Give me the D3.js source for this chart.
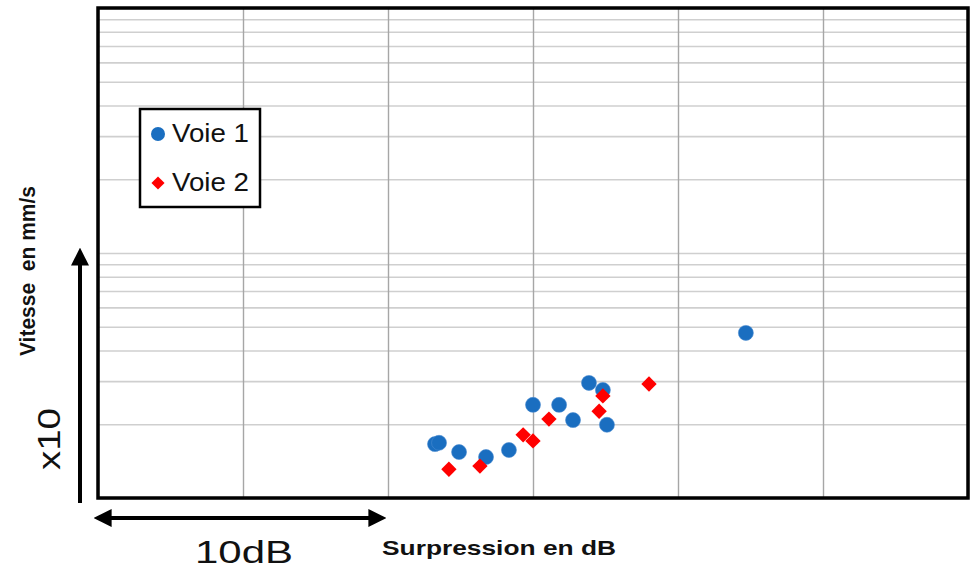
<!DOCTYPE html>
<html><head><meta charset="utf-8">
<script src="https://cdn.jsdelivr.net/npm/d3@7"></script>
<style>body{margin:0;background:#fff}svg{display:block}text{font-family:"Liberation Sans",Arial,sans-serif}</style>
</head><body><svg id="c" width="974" height="569"></svg>
<script>
// Data (x: surpression in dB relative offset, y: vitesse in mm/s x10, log scale)
const voie1X = [11.62, 11.76, 12.45, 13.38, 14.17, 15.00, 15.90, 16.38, 16.93, 17.41, 17.55, 22.34];
const voie1Y = [16.6, 16.8, 15.4, 14.7, 15.7, 24.0, 24.0, 20.8, 29.5, 27.6, 19.9, 47.2];
const voie2X = [12.10, 13.17, 14.66, 15.00, 15.55, 17.28, 17.41, 19.00];
const voie2Y = [13.1, 13.5, 18.1, 17.1, 21.0, 22.6, 26.1, 29.2];
const seriesNames = ["Voie 1", "Voie 2"];
const xTicks = [0, 5, 10, 15, 20, 25, 30];
const yTicks = [10,20,30,40,50,60,70,80,90,100,200,300,400,500,600,700,800,900,1000];

const svg = d3.select("#c");
const L = 98, R = 968, T = 8, B = 498;
const x = d3.scaleLinear().domain([0, 30]).range([L, R]);
const y = d3.scaleLog().domain([10, 1000]).range([B, T]);

// horizontal grid
svg.append("g").attr("transform", `translate(${L},0)`)
  .call(d3.axisLeft(y).tickValues(yTicks).tickSize(-(R - L)).tickFormat(""))
  .call(g => g.select(".domain").remove())
  .call(g => g.selectAll("line").attr("stroke", "#cfcfcf").attr("stroke-width", 1.6));
// vertical grid
svg.append("g").attr("transform", `translate(0,${B})`)
  .call(d3.axisBottom(x).tickValues(xTicks).tickSize(-(B - T)).tickFormat(""))
  .call(g => g.select(".domain").remove())
  .call(g => g.selectAll("line").attr("stroke", "#a6a6a6").attr("stroke-width", 1.4));

// frame
svg.append("rect").attr("x", L).attr("y", T).attr("width", R - L).attr("height", B - T)
  .attr("fill", "none").attr("stroke", "#000").attr("stroke-width", 3.5);

// points
const pts1 = voie1X.map((v, i) => [v, voie1Y[i]]);
const pts2 = voie2X.map((v, i) => [v, voie2Y[i]]);
svg.append("g").selectAll("circle").data(pts1).join("circle")
  .attr("cx", d => x(d[0])).attr("cy", d => y(d[1])).attr("r", 7.5)
  .attr("fill", "#1a6ec0").attr("stroke", "#4a8bd0").attr("stroke-width", 1).attr("stroke-opacity", 0.6);
const diamond = d3.symbol().type(d3.symbolDiamond2).size(150);
svg.append("g").selectAll("path").data(pts2).join("path")
  .attr("d", diamond)
  .attr("transform", d => `translate(${x(d[0])},${y(d[1])})`)
  .attr("fill", "#ff0000");

// legend
const lg = svg.append("g");
lg.append("rect").attr("x", 140).attr("y", 109).attr("width", 120).attr("height", 98)
  .attr("fill", "#fff").attr("stroke", "#000").attr("stroke-width", 2.5);
lg.append("circle").attr("cx", 158).attr("cy", 134).attr("r", 7).attr("fill", "#1a6ec0");
lg.append("path").attr("d", d3.symbol().type(d3.symbolDiamond2).size(110)).attr("transform", "translate(158,183)").attr("fill", "#ff0000");
lg.selectAll("text.lt").data(seriesNames).join("text").attr("class", "lt")
  .attr("x", 172).attr("y", (d, i) => 142 + i * 49)
  .attr("font-size", 26).attr("fill", "#111")
  .attr("textLength", 77).attr("lengthAdjust", "spacingAndGlyphs")
  .text(d => d);

// arrows
const defs = svg.append("defs");
defs.append("marker").attr("id", "ah").attr("viewBox", "0 0 10 10").attr("refX", 2).attr("refY", 5)
  .attr("markerWidth", 4.5).attr("markerHeight", 4.5).attr("markerUnits", "strokeWidth").attr("orient", "auto-start-reverse")
  .append("path").attr("d", "M0,0 L10,5 L0,10 z").attr("fill", "#000");
svg.append("line").attr("x1", 80).attr("y1", 503).attr("x2", 80).attr("y2", 262)
  .attr("stroke", "#000").attr("stroke-width", 4).attr("marker-end", "url(#ah)");
svg.append("line").attr("x1", 108).attr("y1", 518).attr("x2", 372).attr("y2", 518)
  .attr("stroke", "#000").attr("stroke-width", 4)
  .attr("marker-end", "url(#ah)").attr("marker-start", "url(#ah)");

// texts
svg.append("text").attr("x", 382).attr("y", 555).attr("font-size", 21).attr("font-weight", "bold")
  .attr("fill", "#111").attr("textLength", 234).attr("lengthAdjust", "spacingAndGlyphs").text("Surpression en dB");
svg.append("text").attr("x", 195).attr("y", 563).attr("font-size", 31)
  .attr("fill", "#111").attr("textLength", 98).attr("lengthAdjust", "spacingAndGlyphs").text("10dB");
svg.append("text").attr("transform", "translate(60,470) rotate(-90)").attr("font-size", 32)
  .attr("fill", "#111").attr("textLength", 62).attr("lengthAdjust", "spacingAndGlyphs").text("x10");
svg.append("text").attr("transform", "translate(35,356) rotate(-90)").attr("font-size", 22).attr("font-weight", "bold")
  .attr("fill", "#111").attr("textLength", 170).attr("lengthAdjust", "spacingAndGlyphs").text("Vitesse\u00a0\u00a0en mm/s");
</script></body></html>
